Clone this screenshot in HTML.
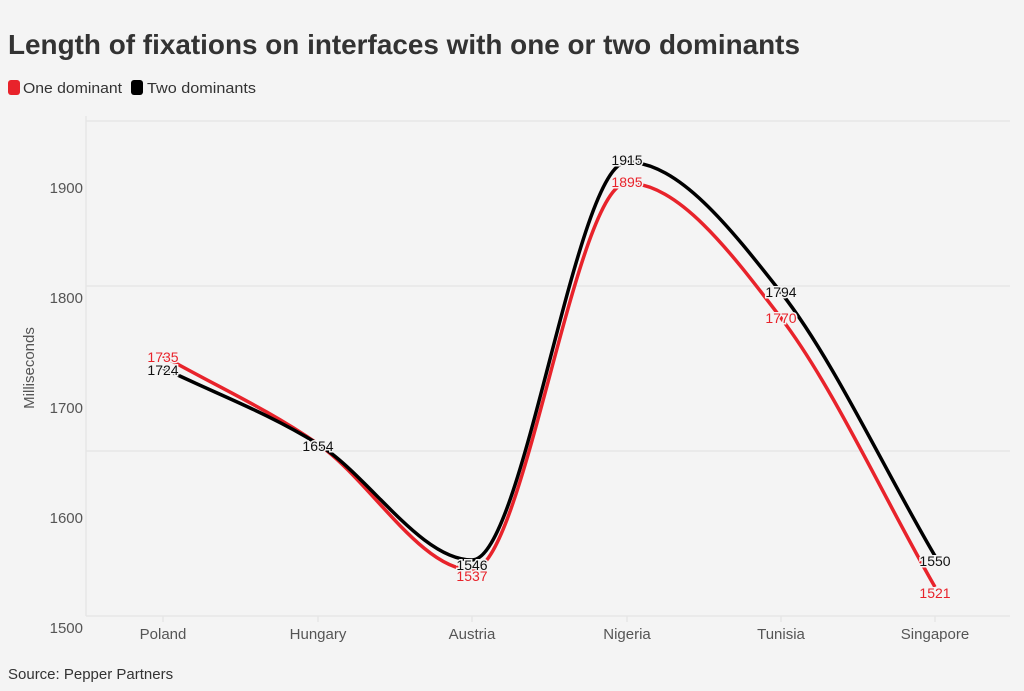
<!DOCTYPE html>
<html><head><meta charset="utf-8"><style>
body{margin:0;background:#f4f4f4;}
svg{display:block;font-family:"Liberation Sans",sans-serif;}
</style></head><body>
<svg width="1024" height="691" viewBox="0 0 1024 691">
<rect width="1024" height="691" fill="#f4f4f4"/>
<text x="8" y="54" font-size="28" font-weight="bold" fill="#333" textLength="792" lengthAdjust="spacingAndGlyphs">Length of fixations on interfaces with one or two dominants</text>
<rect x="8" y="80" width="12" height="15" rx="3" fill="#e8232b"/>
<text x="23" y="93" font-size="15" fill="#333" textLength="99" lengthAdjust="spacingAndGlyphs">One dominant</text>
<rect x="131" y="80" width="12" height="15" rx="3" fill="#000"/>
<text x="147" y="93" font-size="15" fill="#333" textLength="109" lengthAdjust="spacingAndGlyphs">Two dominants</text>
<g stroke="#e6e6e6" stroke-width="1.5">
<line x1="86" y1="121" x2="1010" y2="121"/>
<line x1="86" y1="286" x2="1010" y2="286"/>
<line x1="86" y1="451" x2="1010" y2="451"/>
<line x1="86" y1="616" x2="1010" y2="616"/>
<line x1="86" y1="116" x2="86" y2="616"/>
<line x1="163" y1="616" x2="163" y2="622"/><line x1="318" y1="616" x2="318" y2="622"/>
<line x1="472" y1="616" x2="472" y2="622"/><line x1="627" y1="616" x2="627" y2="622"/>
<line x1="781" y1="616" x2="781" y2="622"/><line x1="935" y1="616" x2="935" y2="622"/>
</g>
<g font-size="15" fill="#555" text-anchor="end">
<text x="83" y="193">1900</text><text x="83" y="303">1800</text><text x="83" y="413">1700</text><text x="83" y="523">1600</text><text x="83" y="633">1500</text>
</g>
<text transform="translate(34,368) rotate(-90)" font-size="15" fill="#555" text-anchor="middle">Milliseconds</text>
<g font-size="15" fill="#555" text-anchor="middle">
<text x="163" y="639">Poland</text><text x="318" y="639">Hungary</text><text x="472" y="639">Austria</text>
<text x="627" y="639">Nigeria</text><text x="781" y="639">Tunisia</text><text x="935" y="639">Singapore</text>
</g>
<path d="M163,356 C214.5,385.4 266.5,408.3 318,444 C369.5,479.7 420.5,570 472,570 C523.5,570 575.5,183 627,183 C678.5,183 729.5,250.5 781,318 C832.5,385.5 883.5,497.3 935,587" fill="none" stroke="#e8232b" stroke-width="3.5"/>
<path d="M163,368 C214.5,393.3 266.5,412 318,444 C369.5,476 420.5,560 472,560 C523.5,560 575.5,162 627,162 C678.5,162 729.5,226.8 781,292.5 C832.5,358.2 883.5,468.2 935,556" fill="none" stroke="#000" stroke-width="3.5"/>
<g font-size="14" text-anchor="middle" stroke="#f4f4f4" stroke-width="3" paint-order="stroke">
<text x="163" y="362" fill="#e8232b">1735</text>
<text x="163" y="375" fill="#111">1724</text>
<text x="318" y="451" fill="#111">1654</text>
<text x="472" y="581" fill="#e8232b">1537</text>
<text x="472" y="570" fill="#111">1546</text>
<text x="627" y="165" fill="#111">1915</text>
<text x="627" y="187" fill="#e8232b">1895</text>
<text x="781" y="297" fill="#111">1794</text>
<text x="781" y="323" fill="#e8232b">1770</text>
<text x="935" y="566" fill="#111">1550</text>
<text x="935" y="598" fill="#e8232b">1521</text>
</g>
<text x="8" y="679" font-size="15" fill="#333">Source: Pepper Partners</text>
</svg>
</body></html>
